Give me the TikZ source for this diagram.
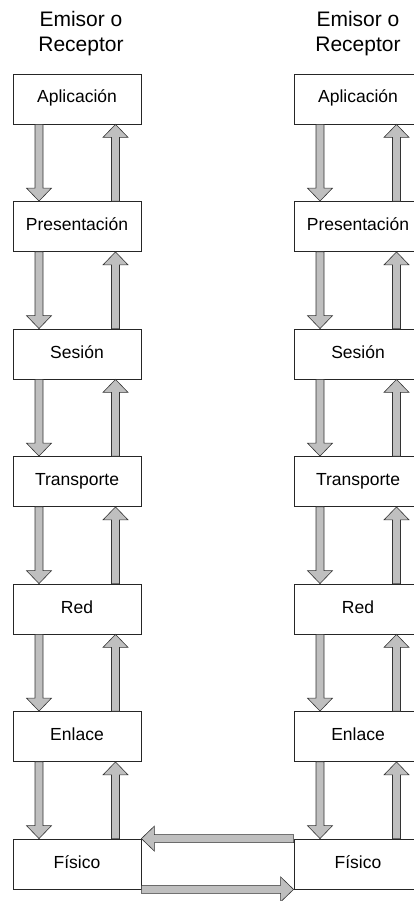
\documentclass[tikz,border=0pt]{standalone}
\usepackage{fontspec}
\setmainfont{Liberation Sans}
\usetikzlibrary{calc}

% Flat block arrow (grey body, dark outline) from tail #1 to tip #2
\newcommand{\blockarrow}[2]{%
  \coordinate (ba-h) at ($(#2)!13pt!(#1)$);
  \draw[blockarrowstyle]
    ($(#1)!4pt!90:(#2)$) -- ($(ba-h)!4pt!90:(#2)$) -- ($(ba-h)!12.5pt!90:(#2)$)
    -- (#2)
    -- ($(ba-h)!12.5pt!-90:(#2)$) -- ($(ba-h)!4pt!-90:(#2)$) -- ($(#1)!4pt!-90:(#2)$)
    -- cycle;}

\tikzset{
  layer/.style={draw=black!85, line width=0.8pt, fill=white,
    minimum width=128pt, minimum height=50pt, inner sep=0pt,
    text height=12.5pt, text depth=4.5pt, font=\fontsize{17.5}{20}\selectfont},
  title/.style={anchor=base, inner sep=0pt, font=\fontsize{21}{25}\selectfont},
  blockarrowstyle/.style={draw=black!80, line width=0.6pt, fill=black!25, line join=miter}
}

\begin{document}
\begin{tikzpicture}[x=1pt, y=-1pt]
  \useasboundingbox (0,0) rectangle (414,901);
  \clip (0,0) rectangle (414,901);

  % column headings
  \node[title] (tl1) at (81,27) {Emisor o};
  \node[title] (tl2) at (81,52) {Receptor};
  \node[title] (tr1) at (358,27) {Emisor o};
  \node[title] (tr2) at (358,52) {Receptor};

  % protocol layers of both stacks
  \foreach \t [count=\i] in {Aplicación,Presentación,Sesión,Transporte,Red,Enlace,Físico} {
    \node[layer] (l\i) at (77, {99+127.5*(\i-1)}) {\t};
    \node[layer] (r\i) at (358, {99+127.5*(\i-1)}) {\t};
  }

  % downward and upward flows between neighbouring layers
  \foreach \i in {1,...,6} {
    \pgfmathtruncatemacro\j{\i+1}
    \foreach \s in {l,r} {
      \coordinate (\s\i-dt) at ($(\s\i.south)+(-38pt,0)$);
      \coordinate (\s\i-dh) at ($(\s\j.north)+(-38pt,0)$);
      \coordinate (\s\i-ut) at ($(\s\j.north)+(38.5pt,0)$);
      \coordinate (\s\i-uh) at ($(\s\i.south)+(38.5pt,0)$);
      \blockarrow{\s\i-dt}{\s\i-dh}
      \blockarrow{\s\i-ut}{\s\i-uh}
    }
  }

  % physical link between the two stacks
  \blockarrow{r7.north west}{l7.north east}
  \blockarrow{l7.south east}{r7.south west}
\end{tikzpicture}
\end{document}
